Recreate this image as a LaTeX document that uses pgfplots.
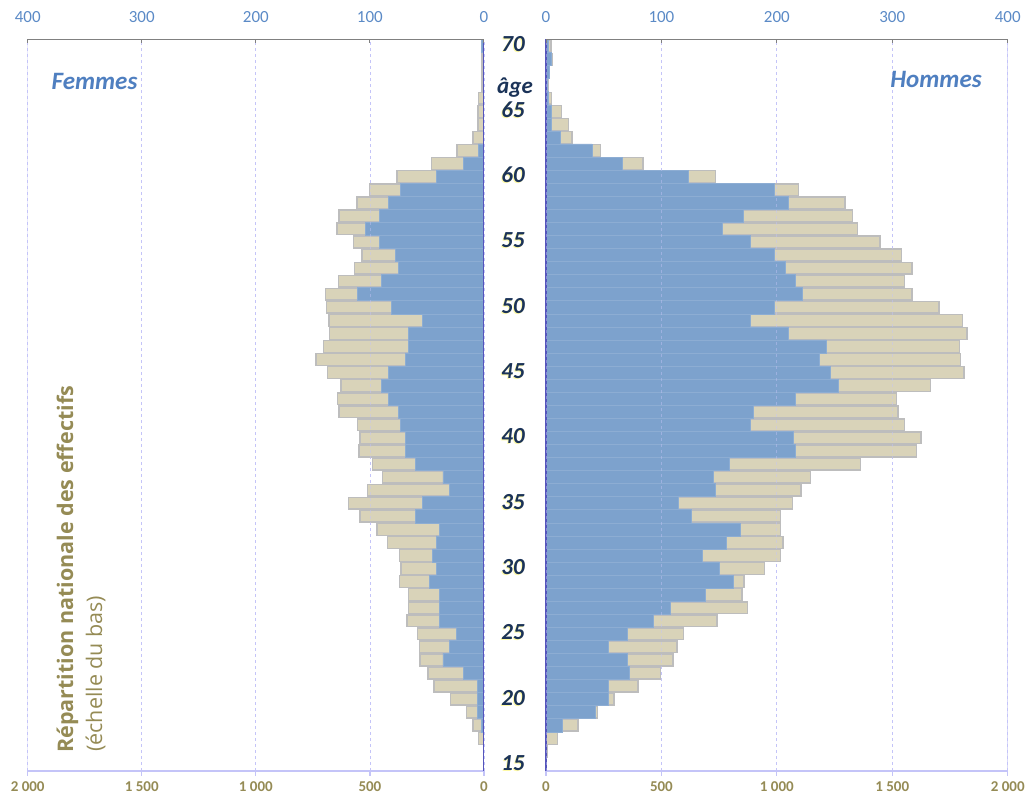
\documentclass[border=0pt]{standalone}
\usepackage{pgfplots}
\pgfplotsset{compat=1.18}
\usepackage{pgfplotstable}
\usepackage{fontspec}
\setmainfont{Carlito}
\newfontfamily\opensans{Open Sans}

\definecolor{barblue}{HTML}{7DA2CD}
\definecolor{beige}{HTML}{D9D3B9}
\definecolor{beigeedge}{HTML}{BDBDBD}
\definecolor{lavender}{HTML}{C4C4F8}
\definecolor{centerblue}{HTML}{5555BB}
\definecolor{topblue}{HTML}{5B8AC6}
\definecolor{olive}{HTML}{958B55}
\definecolor{agenavy}{HTML}{1B3358}
\definecolor{sexblue}{HTML}{4F7FC0}

% age, national women (bottom scale), local women (top scale),
% national men (bottom scale), local men (top scale)
\pgfplotstableread{
age fnat floc hnat hloc
70 0 2 22 2
69 8 0 27 5
68 8 0 15 3
67 8 0 9 1
66 23 0 24 2
65 27 0 67 5
64 27 0 98 5
63 48 0 112 12
62 118 5 235 40
61 230 18 421 66
60 381 42 733 123
59 503 73 1094 198
58 556 84 1295 210
57 635 92 1328 171
56 645 104 1350 153
55 571 92 1447 177
54 534 78 1539 198
53 567 75 1585 207
52 638 90 1554 216
51 695 111 1585 222
50 691 81 1703 198
49 680 54 1804 177
48 677 66 1823 210
47 703 66 1792 243
46 736 69 1796 237
45 685 84 1811 246
44 627 90 1665 253
43 642 84 1518 216
42 635 75 1524 180
41 555 73 1554 177
40 544 69 1625 214
39 547 69 1606 216
38 488 60 1362 159
37 446 36 1145 145
36 511 30 1105 147
35 593 54 1068 115
34 544 60 1016 126
33 469 39 1016 168
32 423 42 1026 156
31 370 45 1016 135
30 363 42 946 150
29 370 48 857 162
28 330 39 849 138
27 330 39 874 108
26 337 39 740 93
25 292 24 595 70
24 283 30 567 54
23 280 36 550 70
22 246 18 495 72
21 219 6 399 54
20 148 6 294 54
19 76 6 223 43
18 48 2 138 14
17 23 0 49 0
16 0 0 7 0
15 0 0 0 0
}\pyr

\tikzset{agelabel/.style={font=\bfseries\itshape\fontsize{23}{23}\selectfont}}

\pgfplotsset{
  panel/.style={
    scale only axis, height=731.5pt, anchor=south west,
    ymin=14.5, ymax=70.5, axis y line=none, ytick=\empty,
    xbar, bar shift=0pt,
  },
  lower/.style={
    panel, xmin=0, xmax=2000, axis x line=bottom,
    x axis line style={draw=lavender, line width=1.2pt, -},
    xtick={0,500,1000,1500,2000},
    xticklabels={0,500,1 000,1 500,2 000},
    xtick align=outside, major tick length=5pt,
    tick style={draw=lavender, line width=1.2pt},
    xticklabel style={font=\bfseries\fontsize{15}{15}\selectfont, text=olive,
      anchor=center, inner sep=0pt, yshift=-10.5pt},
    xmajorgrids, grid style={dashed, draw=lavender, line width=0.8pt},
    bar width=0.9,
  },
  upper/.style={
    panel, xmin=0, xmax=400, axis x line=top,
    x axis line style={draw=gray, line width=1.2pt, -},
    xtick={0,100,200,300,400},
    xticklabels={0,100,200,300,400},
    xtick align=inside, major tick length=4pt,
    tick style={draw=gray, line width=1pt},
    xticklabel style={font=\fontsize{17}{17}\selectfont, text=topblue,
      anchor=center, inner sep=0pt, yshift=22.8pt},
    xmajorgrids, grid style={dashed, draw=lavender, line width=0.8pt, opacity=0.45},
    axis on top, bar width=1,
  },
  beigebar/.style={fill=beige, draw=beigeedge, line width=1.4pt},
  bluebar/.style={fill=barblue, draw=barblue!88!white, line width=0.6pt},
}

\begin{document}
\begin{tikzpicture}
\useasboundingbox (0,0) rectangle (1029pt,795pt);

% Femmes, national
\begin{axis}[lower, width=456.3pt, at={(27.7pt,24pt)}, x dir=reverse]
\addplot[beigebar] table[x=fnat, y=age] {\pyr};
\draw[lavender, line width=1.2pt] (axis description cs:0,0) -- (axis description cs:0,1);
\end{axis}

% Femmes, local
\begin{axis}[upper, width=456.3pt, at={(27.7pt,24pt)}, x dir=reverse]
\addplot[bluebar] table[x=floc, y=age] {\pyr};
\draw[centerblue, line width=1.4pt] (axis description cs:1,0) -- (axis description cs:1,1);
\end{axis}

% Hommes, national
\begin{axis}[lower, width=461.7pt, at={(546pt,24pt)}]
\addplot[beigebar] table[x=hnat, y=age] {\pyr};
\draw[lavender, line width=1.2pt] (axis description cs:1,0) -- (axis description cs:1,1);
\end{axis}

% Hommes, local
\begin{axis}[upper, width=461.7pt, at={(546pt,24pt)}, clip=false]
\addplot[bluebar] table[x=hloc, y=age] {\pyr};
\draw[centerblue, line width=1.4pt] (axis description cs:0,0) -- (axis description cs:0,1);
\pgfplotsinvokeforeach{15,20,25,30,35,40,45,50,55,60,65,70}{
  \node[agelabel, text=yellow!35, xshift=-34pt, yshift=0.5pt] at (axis cs:0,#1) {#1};
  \node[agelabel, text=agenavy, xshift=-33pt, yshift=1.5pt] at (axis cs:0,#1) {#1};
}
\end{axis}

\node[agelabel, text=agenavy] at (515pt,707pt) {âge};
\node[anchor=base, font=\bfseries\itshape\fontsize{25}{25}\selectfont, text=sexblue] at (94.5pt,705pt) {Femmes};
\node[anchor=base, font=\bfseries\itshape\fontsize{25}{25}\selectfont, text=sexblue] at (936pt,707pt) {Hommes};

\node[rotate=90, anchor=base west, inner sep=0pt, text=olive,
  font=\opensans\bfseries\fontsize{21.5}{21.5}\selectfont] at (73pt,42pt)
  {Répartition nationale des effectifs};
\node[rotate=90, anchor=base west, inner sep=0pt, text=olive,
  font=\opensans\fontsize{21.5}{21.5}\selectfont] at (102pt,43pt)
  {(échelle du bas)};
\end{tikzpicture}
\end{document}
